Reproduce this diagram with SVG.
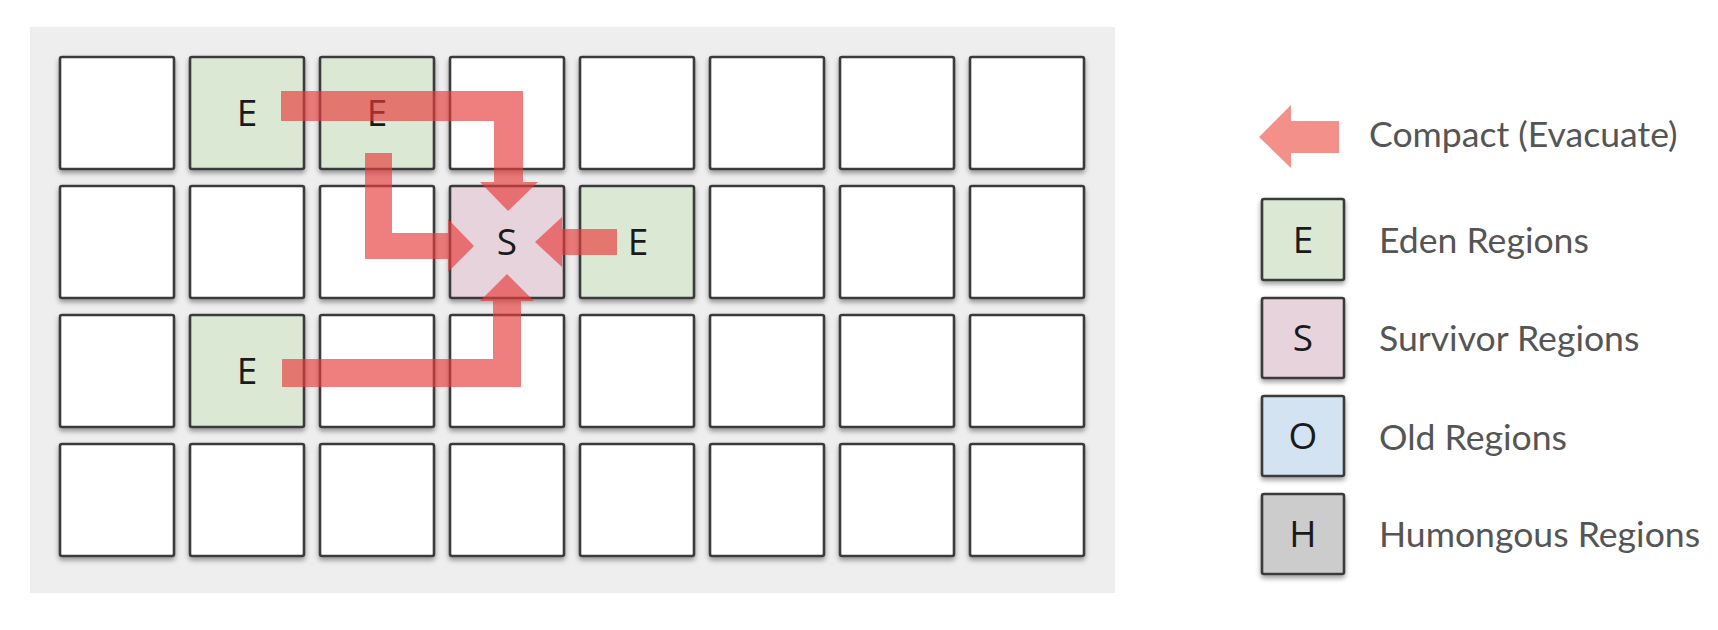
<svg xmlns="http://www.w3.org/2000/svg" width="1718" height="630" viewBox="0 0 1718 630">
<defs>
<filter id="sh" x="-20%" y="-20%" width="140%" height="150%">
<feDropShadow dx="0" dy="3" stdDeviation="2.5" flood-color="#000" flood-opacity="0.38"/>
</filter>
<style>
.c{fill:#fff;stroke:#3a3a3a;stroke-width:2.6;filter:url(#sh)}
.e{fill:#dbe8d4}
.s{fill:#e6d3dc}
.o{fill:#d3e3f1}
.h{fill:#cccccc}
.l{font-family:"Open Sans","DejaVu Sans",sans-serif;font-size:37px;fill:#1a1a1a;text-anchor:middle}
.t{font-family:Lato,"Liberation Sans",sans-serif;font-size:35.6px;fill:#555}
.a{fill:#e63b3b;fill-opacity:0.66}
</style>
</defs>
<rect x="30" y="27" width="1085" height="566" fill="#eeeeee"/>
<g id="grid">
<g id="r0c0"><rect class="c" x="60" y="57" width="114" height="112" rx="2"/></g>
<g id="r0c1"><rect class="c e" x="190" y="57" width="114" height="112" rx="2"/><text class="l" x="247" y="126">E</text></g>
<g id="r0c2"><rect class="c e" x="320" y="57" width="114" height="112" rx="2"/><text class="l" x="377" y="126">E</text></g>
<g id="r0c3"><rect class="c" x="450" y="57" width="114" height="112" rx="2"/></g>
<g id="r0c4"><rect class="c" x="580" y="57" width="114" height="112" rx="2"/></g>
<g id="r0c5"><rect class="c" x="710" y="57" width="114" height="112" rx="2"/></g>
<g id="r0c6"><rect class="c" x="840" y="57" width="114" height="112" rx="2"/></g>
<g id="r0c7"><rect class="c" x="970" y="57" width="114" height="112" rx="2"/></g>

<g id="r1c0"><rect class="c" x="60" y="186" width="114" height="112" rx="2"/></g>
<g id="r1c1"><rect class="c" x="190" y="186" width="114" height="112" rx="2"/></g>
<g id="r1c2"><rect class="c" x="320" y="186" width="114" height="112" rx="2"/></g>
<g id="r1c3"><rect class="c s" x="450" y="186" width="114" height="112" rx="2"/><text class="l" x="507" y="255">S</text></g>
<g id="r1c4"><rect class="c e" x="580" y="186" width="114" height="112" rx="2"/><text class="l" x="638" y="255">E</text></g>
<g id="r1c5"><rect class="c" x="710" y="186" width="114" height="112" rx="2"/></g>
<g id="r1c6"><rect class="c" x="840" y="186" width="114" height="112" rx="2"/></g>
<g id="r1c7"><rect class="c" x="970" y="186" width="114" height="112" rx="2"/></g>

<g id="r2c0"><rect class="c" x="60" y="315" width="114" height="112" rx="2"/></g>
<g id="r2c1"><rect class="c e" x="190" y="315" width="114" height="112" rx="2"/><text class="l" x="247" y="384">E</text></g>
<g id="r2c2"><rect class="c" x="320" y="315" width="114" height="112" rx="2"/></g>
<g id="r2c3"><rect class="c" x="450" y="315" width="114" height="112" rx="2"/></g>
<g id="r2c4"><rect class="c" x="580" y="315" width="114" height="112" rx="2"/></g>
<g id="r2c5"><rect class="c" x="710" y="315" width="114" height="112" rx="2"/></g>
<g id="r2c6"><rect class="c" x="840" y="315" width="114" height="112" rx="2"/></g>
<g id="r2c7"><rect class="c" x="970" y="315" width="114" height="112" rx="2"/></g>

<g id="r3c0"><rect class="c" x="60" y="444" width="114" height="112" rx="2"/></g>
<g id="r3c1"><rect class="c" x="190" y="444" width="114" height="112" rx="2"/></g>
<g id="r3c2"><rect class="c" x="320" y="444" width="114" height="112" rx="2"/></g>
<g id="r3c3"><rect class="c" x="450" y="444" width="114" height="112" rx="2"/></g>
<g id="r3c4"><rect class="c" x="580" y="444" width="114" height="112" rx="2"/></g>
<g id="r3c5"><rect class="c" x="710" y="444" width="114" height="112" rx="2"/></g>
<g id="r3c6"><rect class="c" x="840" y="444" width="114" height="112" rx="2"/></g>
<g id="r3c7"><rect class="c" x="970" y="444" width="114" height="112" rx="2"/></g>
</g>
<g id="connectors">
<path class="a" d="M281,91 H523 V182 H538 L508,211 L480,182 H494 V121 H281 Z"/>
<path class="a" d="M365,153 H392 V233 H448 V219 L474,246 L448,272 V259 H365 Z"/>
<path class="a" d="M617,229 V255 H562 V267 L535,242 L562,217 V229 Z"/>
<path class="a" d="M282,359 H493 V301 H480 L507,274 L534,301 H521 V387 H282 Z"/>
</g>
<g id="legend">
<g id="leg-compact"><path d="M1339,121 V153 H1291 V168 L1259,137 L1291,105 V121 Z" fill="#f3908a"/><text class="t" x="1369" y="147">Compact (Evacuate)</text></g>
<g id="leg-eden"><rect class="c e" x="1262" y="199" width="82" height="81" rx="2"/><text class="l" x="1303" y="253">E</text><text class="t" x="1379" y="253">Eden Regions</text></g>
<g id="leg-survivor"><rect class="c s" x="1262" y="298" width="82" height="80" rx="2"/><text class="l" x="1303" y="351">S</text><text class="t" x="1379" y="351">Survivor Regions</text></g>
<g id="leg-old"><rect class="c o" x="1262" y="396" width="82" height="80" rx="2"/><text class="l" x="1303" y="449">O</text><text class="t" x="1379" y="450">Old Regions</text></g>
<g id="leg-humongous"><rect class="c h" x="1262" y="494" width="82" height="80" rx="2"/><text class="l" x="1303" y="547">H</text><text class="t" x="1379" y="547">Humongous Regions</text></g>
</g>
</svg>
